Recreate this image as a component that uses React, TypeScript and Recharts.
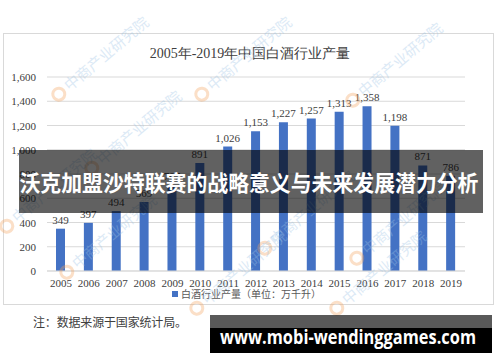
import React from 'react';
import { BarChart, Bar, XAxis, YAxis, CartesianGrid, LabelList } from 'recharts';

const years = ['2005','2006','2007','2008','2009','2010','2011','2012','2013','2014','2015','2016','2017','2018','2019'];
const output = [349, 397, 494, 569, 707, 891, 1026, 1153, 1227, 1257, 1313, 1358, 1198, 871, 786];
const yTicks = [0, 200, 400, 600, 800, 1000, 1200, 1400, 1600];

const title = '2005年-2019年中国白酒行业产量';
const seriesName = '白酒行业产量（单位：万千升）';
const note = '注：数据来源于国家统计局。';
const bannerText = '沃克加盟沙特联赛的战略意义与未来发展潜力分析';
const siteText = 'www.mobi-wendinggames.com';
const watermark = '中商产业研究院';

const data = years.map((y, i) => ({ year: y, value: output[i] }));

const fmt = (v: number) => v.toLocaleString('en-US');
const SERIF = '"Liberation Serif", "Times New Roman", serif';
const CJK = '"Noto Sans CJK SC", "Noto Sans", sans-serif';

const XTick = (props: any) => (
  <text x={props.x} y={287} textAnchor="middle" fontSize={11} fontFamily={SERIF} fill="#404040">
    {props.payload.value}
  </text>
);
const YTick = (props: any) => (
  <text x={36} y={props.y + 4} textAnchor="end" fontSize={11} fontFamily={SERIF} fill="#404040">
    {fmt(props.payload.value)}
  </text>
);

const marks = [
  { x: 62, y: 98 }, { x: 205, y: 98 }, { x: 356, y: 104 },
  { x: 95, y: 172 }, { x: 70, y: 276 }, { x: 268, y: 252 },
  { x: 360, y: 262 }, { x: 10, y: 230 }, { x: 340, y: 312 }, { x: 200, y: 312 },
];

export default function App() {
  return (
    <div style={{ position: 'fixed', left: 0, top: 0, width: 500, height: 362, background: '#fff', overflow: 'hidden' }}>
      <div style={{ position: 'absolute', left: 3, top: 33, width: 491, height: 272, border: '1px solid #d9d9d9', boxSizing: 'border-box' }} />
      <div style={{ position: 'absolute', left: 0, top: 0 }}>
        <BarChart width={500} height={362} data={data} margin={{ top: 77, right: 35, left: 0, bottom: 0 }}>
          <CartesianGrid vertical={false} stroke="#d9d9d9" />
          <XAxis dataKey="year" height={91} tick={<XTick />} tickLine={false} axisLine={{ stroke: '#d9d9d9' }} interval={0} />
          <YAxis width={47} domain={[0, 1600]} ticks={yTicks} tick={<YTick />} tickLine={false} axisLine={false} interval={0} />
          <Bar dataKey="value" fill="#4472C4" barSize={9} isAnimationActive={false}>
            <LabelList dataKey="value" position="top" offset={5} formatter={(v: any) => fmt(Number(v))}
              style={{ fontSize: 11, fontFamily: SERIF, fill: '#404040' }} />
          </Bar>
        </BarChart>
      </div>
      <svg width={500} height={362} style={{ position: 'absolute', left: 0, top: 0 }}>
        <text x={250} y={58} textAnchor="middle" fontSize={14} fontFamily={SERIF} fill="#404040">{title}</text>
        <rect x={172} y={291} width={6} height={6} fill="#4472C4" />
        <text x={181} y={298} fontSize={10} fontFamily={CJK} fill="#595959">{seriesName}</text>
        <text x={33} y={327} fontSize={12} fontFamily={CJK} fill="#404040" textLength={154} lengthAdjust="spacing">{note}</text>
        {marks.map((m, i) => (
          <g key={i} transform={`translate(${m.x},${m.y}) rotate(-40)`} opacity={0.35}>
            <circle cx={0} cy={-5} r={6} fill="none" stroke="#f4a460" strokeWidth={3} />
            <text x={10} y={0} fontSize={15} fontFamily={CJK} fill="#9cc3e6">{watermark}</text>
          </g>
        ))}
        <rect x={19} y={150} width={464} height={63} fill="rgba(0,0,0,0.62)" />
        <text x={249} y={191} textAnchor="middle" fontSize={22} fontWeight="bold" fontFamily={CJK} fill="#fff"
          textLength={459} lengthAdjust="spacingAndGlyphs">{bannerText}</text>
        <rect x={210} y={315} width={282} height={38} fill="rgba(0,0,0,0.65)" />
        <rect x={210} y={328} width={282} height={25} fill="#000" />
        <text x={220} y={344} fontSize={19} fontWeight="bold" fontFamily={'"Open Sans", "Noto Sans", sans-serif'} fill="#fff"
          textLength={256} lengthAdjust="spacingAndGlyphs">{siteText}</text>
      </svg>
    </div>
  );
}
